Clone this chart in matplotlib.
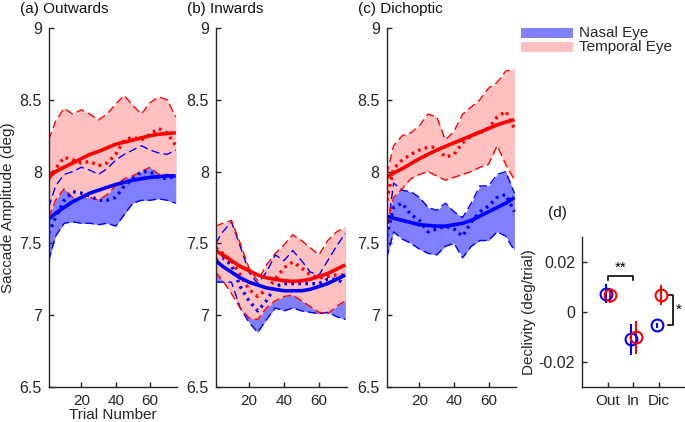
import matplotlib
matplotlib.use('Agg')
import matplotlib.pyplot as plt
from matplotlib.patches import Rectangle

plt.rcParams['font.family'] = ['Liberation Sans', 'DejaVu Sans']
plt.rcParams['font.size'] = 11

# trial positions at which the curves were read
trial = [1, 5, 10, 15, 20, 25, 30, 35, 40, 45, 50, 55, 60, 65, 70, 75]

# (a) Outwards
a_nas_mean = [7.57, 7.68, 7.80, 7.86, 7.85, 7.83, 7.80, 7.80, 7.82, 7.90, 7.95, 8.00, 8.00, 7.96, 7.95, 7.97]
a_nas_lo = [7.38, 7.55, 7.64, 7.65, 7.64, 7.64, 7.63, 7.64, 7.62, 7.70, 7.78, 7.80, 7.80, 7.81, 7.80, 7.78]
a_nas_hi = [7.75, 7.90, 7.98, 8.00, 8.03, 8.01, 7.98, 8.02, 8.08, 8.12, 8.15, 8.18, 8.15, 8.13, 8.12, 8.15]
a_nas_fit = [7.67, 7.71, 7.75, 7.79, 7.82, 7.85, 7.87, 7.89, 7.91, 7.925, 7.94, 7.95, 7.96, 7.965, 7.97, 7.97]
a_tem_mean = [7.95, 8.02, 8.10, 8.08, 8.06, 8.07, 8.04, 8.06, 8.12, 8.22, 8.24, 8.22, 8.26, 8.30, 8.27, 8.18]
a_tem_lo = [7.68, 7.80, 7.88, 7.82, 7.82, 7.82, 7.80, 7.84, 7.90, 7.95, 7.97, 8.00, 8.03, 7.98, 7.98, 7.97]
a_tem_hi = [8.22, 8.35, 8.44, 8.40, 8.43, 8.40, 8.36, 8.40, 8.47, 8.53, 8.46, 8.40, 8.48, 8.52, 8.50, 8.38]
a_tem_fit = [7.96, 8.00, 8.03, 8.06, 8.09, 8.12, 8.14, 8.165, 8.19, 8.205, 8.22, 8.235, 8.25, 8.26, 8.265, 8.27]

# (b) Inwards
b_nas_mean = [7.38, 7.40, 7.35, 7.20, 7.10, 7.03, 7.10, 7.20, 7.22, 7.22, 7.22, 7.22, 7.22, 7.25, 7.25, 7.22]
b_nas_lo = [7.23, 7.23, 7.23, 7.05, 6.95, 6.88, 6.97, 7.05, 7.03, 7.05, 7.03, 7.02, 7.01, 7.02, 6.99, 6.97]
b_nas_hi = [7.50, 7.58, 7.65, 7.48, 7.30, 7.22, 7.30, 7.42, 7.38, 7.45, 7.38, 7.30, 7.28, 7.38, 7.48, 7.57]
b_nas_fit = [7.38, 7.34, 7.30, 7.26, 7.23, 7.21, 7.19, 7.18, 7.17, 7.17, 7.17, 7.18, 7.20, 7.22, 7.25, 7.28]
b_tem_mean = [7.47, 7.43, 7.38, 7.28, 7.18, 7.13, 7.18, 7.25, 7.33, 7.37, 7.33, 7.28, 7.26, 7.27, 7.28, 7.28]
b_tem_lo = [7.30, 7.24, 7.15, 7.05, 6.98, 6.97, 7.05, 7.10, 7.13, 7.14, 7.10, 7.06, 7.02, 7.01, 7.06, 7.10]
b_tem_hi = [7.62, 7.64, 7.66, 7.50, 7.33, 7.24, 7.35, 7.43, 7.49, 7.56, 7.52, 7.47, 7.42, 7.52, 7.58, 7.61]
b_tem_fit = [7.45, 7.42, 7.38, 7.34, 7.31, 7.28, 7.26, 7.25, 7.24, 7.235, 7.24, 7.25, 7.27, 7.29, 7.32, 7.35]

# (c) Dichoptic
c_nas_mean = [7.55, 7.75, 7.78, 7.70, 7.66, 7.58, 7.60, 7.62, 7.60, 7.55, 7.65, 7.72, 7.76, 7.82, 7.84, 7.72]
c_nas_lo = [7.40, 7.58, 7.53, 7.50, 7.46, 7.43, 7.42, 7.48, 7.50, 7.40, 7.48, 7.52, 7.52, 7.58, 7.55, 7.45]
c_nas_hi = [7.55, 7.92, 7.87, 7.86, 7.82, 7.75, 7.73, 7.78, 7.72, 7.68, 7.78, 7.90, 7.90, 7.98, 8.00, 7.85]
c_nas_fit = [7.69, 7.675, 7.66, 7.645, 7.63, 7.625, 7.62, 7.62, 7.63, 7.64, 7.66, 7.69, 7.72, 7.75, 7.78, 7.82]
c_tem_mean = [7.80, 8.02, 8.08, 8.12, 8.15, 8.17, 8.17, 8.10, 8.12, 8.20, 8.25, 8.27, 8.30, 8.38, 8.42, 8.30]
c_tem_lo = [7.62, 7.82, 7.88, 7.95, 7.98, 8.00, 7.97, 7.94, 7.96, 7.98, 8.00, 8.03, 8.05, 8.18, 8.05, 7.94]
c_tem_hi = [7.98, 8.18, 8.25, 8.27, 8.32, 8.40, 8.38, 8.22, 8.28, 8.40, 8.45, 8.50, 8.58, 8.62, 8.70, 8.71]
c_tem_fit = [7.96, 7.99, 8.02, 8.055, 8.09, 8.12, 8.15, 8.175, 8.20, 8.225, 8.25, 8.275, 8.30, 8.325, 8.345, 8.36]

panel_titles = ['(a) Outwards', '(b) Inwards', '(c) Dichoptic']

# (d) declivity per condition
conditions = ['Out', 'In', 'Dic']
nas_decl = [0.0073, -0.0110, -0.0053]
nas_err = [0.0037, 0.0062, 0.0010]
tem_decl = [0.0067, -0.0102, 0.0067]
tem_err = [0.0030, 0.0067, 0.0040]
d_yticks = [-0.02, 0, 0.02]
d_yticklabels = ['-0.02', '0', '0.02']

BLUE = '#0000ff'
RED = '#ff0000'
BLUE_FILL = '#8080ff'
RED_FILL = '#ffc0c0'
TXT = '#262626'

fig = plt.figure(figsize=(6.85, 4.22), dpi=100)

panels = [
    (a_nas_mean, a_nas_lo, a_nas_hi, a_nas_fit, a_tem_mean, a_tem_lo, a_tem_hi, a_tem_fit),
    (b_nas_mean, b_nas_lo, b_nas_hi, b_nas_fit, b_tem_mean, b_tem_lo, b_tem_hi, b_tem_fit),
    (c_nas_mean, c_nas_lo, c_nas_hi, c_nas_fit, c_tem_mean, c_tem_lo, c_tem_hi, c_tem_fit),
]
rects = [[0.0711, 0.083, 0.188, 0.8507],
         [0.3149, 0.083, 0.1917, 0.8507],
         [0.5645, 0.083, 0.1890, 0.8507]]


def style_axes(ax):
    for s in ['top', 'right']:
        ax.spines[s].set_visible(False)
    for s in ['left', 'bottom']:
        ax.spines[s].set_linewidth(1.0)
        ax.spines[s].set_color(TXT)
    ax.tick_params(direction='in', length=3.5, width=1.0, colors=TXT,
                   labelsize=11, pad=5)
    ax.tick_params(axis='y', labelsize=11.5)


dash = (0, (6, 3))
dots = (0, (0.8, 1.3))

for k, (data, rect) in enumerate(zip(panels, rects)):
    nm, nl, nh, nf, tm, tl, th, tf = data
    ax = fig.add_axes(rect)
    ax.fill_between(trial, nl, nh, color=BLUE_FILL, lw=0)
    ax.fill_between(trial, tl, th, color=RED_FILL, lw=0)
    for series, col in [(nl, BLUE), (nh, BLUE), (tl, RED), (th, RED)]:
        ax.plot(trial, series, color=col, lw=1.0, linestyle=dash)
    ax.plot(trial, tm, color=RED, lw=2.4, linestyle=dots)
    ax.plot(trial, nm, color=BLUE, lw=2.4, linestyle=dots)
    ax.plot(trial, tf, color=RED, lw=2.6, solid_capstyle='butt')
    ax.plot(trial, nf, color=BLUE, lw=2.6, solid_capstyle='butt')
    ax.set_xlim(1, 76)
    ax.set_ylim(6.5, 9)
    ax.set_xticks([20, 40, 60])
    ax.set_yticks([6.5, 7, 7.5, 8, 8.5, 9])
    ax.set_yticklabels(['6.5', '7', '7.5', '8', '8.5', '9'])
    style_axes(ax)
    fig.text(rect[0] - 0.0415, 0.979, panel_titles[k], ha='left', va='center',
             fontsize=11, color='#111111')
    if k == 0:
        ax.set_ylabel('Saccade Amplitude (deg)', fontsize=11, color=TXT, labelpad=3)
        ax.set_xlabel('Trial Number', fontsize=11, color=TXT, labelpad=0)

# legend drawn in figure coordinates
fig.patches.append(Rectangle((521 / 685, 1 - 38 / 422), 52 / 685, 10 / 422,
                             transform=fig.transFigure, color=BLUE_FILL, lw=0))
fig.patches.append(Rectangle((521 / 685, 1 - 52 / 422), 52 / 685, 10 / 422,
                             transform=fig.transFigure, color=RED_FILL, lw=0))
fig.text(579 / 685, 1 - 33 / 422, 'Nasal Eye', ha='left', va='center', fontsize=11, color=TXT)
fig.text(579 / 685, 1 - 47 / 422, 'Temporal Eye', ha='left', va='center', fontsize=11, color=TXT)

# (d)
axd = fig.add_axes([0.8496, 0.0836, 0.1504, 0.355])
pos = list(range(1, len(conditions) + 1))
off = 0.08
axd.errorbar([p - off for p in pos], nas_decl, yerr=nas_err, fmt='o', color=BLUE,
             mfc='none', ms=8.5, mew=1.5, elinewidth=1.5, capsize=0)
axd.errorbar([p + off for p in pos], tem_decl, yerr=tem_err, fmt='o', color=RED,
             mfc='none', ms=8.5, mew=1.5, elinewidth=1.5, capsize=0)
axd.set_xlim(0, 4)
axd.set_ylim(-0.03, 0.03)
axd.set_xticks(pos)
axd.set_xticklabels(conditions)
axd.set_yticks(d_yticks)
axd.set_yticklabels(d_yticklabels)
style_axes(axd)
axd.set_ylabel('Declivity (deg/trial)', fontsize=11, color=TXT, labelpad=2)

# significance brackets
yb = 0.0144
axd.plot([1, 1, 2, 2], [yb - 0.0017, yb, yb, yb - 0.0017], color='k', lw=1.2, clip_on=False)
axd.text(1.5, yb + 0.0003, '**', ha='center', va='bottom', fontsize=11)
xb = 3.52
axd.plot([xb - 0.17, xb, xb, xb - 0.17], [tem_decl[2], tem_decl[2], nas_decl[2], nas_decl[2]],
         color='k', lw=1.2, clip_on=False)
axd.text(xb + 0.12, (tem_decl[2] + nas_decl[2]) / 2, '*', ha='left', va='center', fontsize=11)
fig.text(557 / 685, 1 - 213 / 422, '(d)', ha='center', va='center', fontsize=11, color='#111111')

fig.savefig('out.png', dpi=100)
